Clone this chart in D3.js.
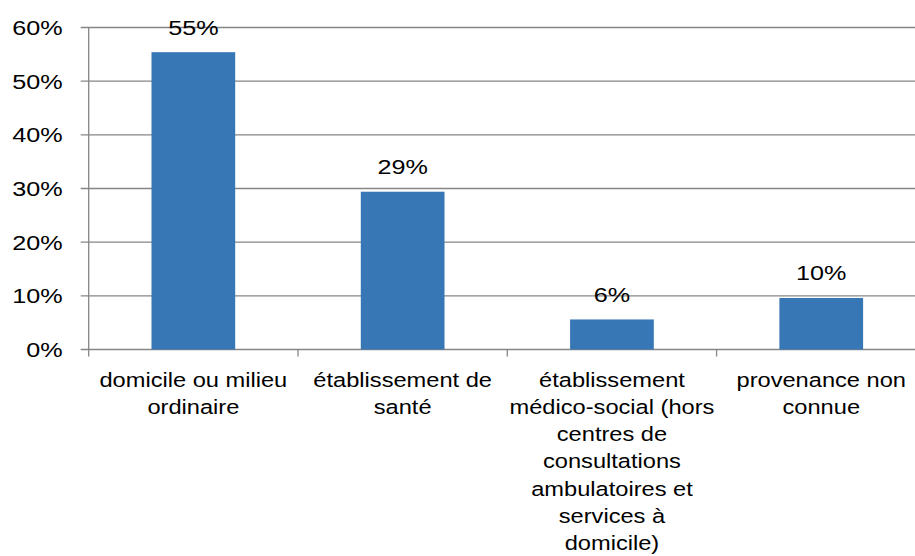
<!doctype html>
<html>
  <head>
    <meta charset="utf-8">
    <script src="https://cdn.jsdelivr.net/npm/d3@7"></script>
    <style>
      body { margin: 0; background: #fff; }
      text { font-family: "Liberation Sans", Arial, sans-serif; fill: #000; }
    </style>
  </head>
  <body>
    <div id="my_dataviz"></div>
    <script>
      // data
      var categories = ["domicile", "sante", "medicosocial", "inconnue"];
      var categoryLines = [
        ["domicile ou milieu", "ordinaire"],
        ["établissement de", "santé"],
        ["établissement", "médico-social (hors", "centres de", "consultations", "ambulatoires et", "services à", "domicile)"],
        ["provenance non", "connue"]
      ];
      var values = [0.554, 0.294, 0.056, 0.096];
      var yTicks = [0, 0.1, 0.2, 0.3, 0.4, 0.5, 0.6];

      // the picture is stretched sideways, so the text is too
      var stretch = 1.2;

      var W = 915, H = 556;
      var plotLeft = 88.7, plotRight = 925.9, plotTop = 27.5, plotBottom = 349.5;

      var svg = d3.select("#my_dataviz")
        .append("svg")
          .attr("width", W)
          .attr("height", H);

      var x = d3.scaleBand()
        .domain(categories)
        .range([plotLeft, plotRight])
        .paddingInner(0.6)
        .paddingOuter(0.3);

      var y = d3.scaleLinear()
        .domain([0, 0.6])
        .range([plotBottom, plotTop]);

      var fmt = d3.format(".0%");

      // gridlines (with the small outward tick on the left)
      svg.selectAll("gridLines")
        .data(yTicks)
        .enter()
        .append("line")
          .attr("x1", plotLeft - 8)
          .attr("x2", plotRight)
          .attr("y1", function(d) { return y(d); })
          .attr("y2", function(d) { return y(d); })
          .attr("stroke", "#868686")
          .attr("stroke-width", 1.3);

      // y axis line
      svg.append("line")
        .attr("x1", plotLeft).attr("x2", plotLeft)
        .attr("y1", plotTop).attr("y2", plotBottom + 7)
        .attr("stroke", "#868686")
        .attr("stroke-width", 1.3);

      // category boundary ticks
      svg.selectAll("catTicks")
        .data(d3.range(1, categories.length + 1))
        .enter()
        .append("line")
          .attr("x1", function(i) { return plotLeft + i * x.step(); })
          .attr("x2", function(i) { return plotLeft + i * x.step(); })
          .attr("y1", plotBottom)
          .attr("y2", plotBottom + 7)
          .attr("stroke", "#868686")
          .attr("stroke-width", 1.3);

      // y tick labels
      svg.selectAll("yLabels")
        .data(yTicks)
        .enter()
        .append("text")
          .attr("transform", function(d) { return "translate(" + (plotLeft - 26) + "," + y(d) + ") scale(" + stretch + ",1)"; })
          .attr("text-anchor", "end")
          .attr("dy", "0.36em")
          .style("font-size", "21px")
          .text(function(d) { return fmt(d); });

      // bars
      svg.selectAll("bars")
        .data(values)
        .enter()
        .append("rect")
          .attr("x", function(d, i) { return x(categories[i]); })
          .attr("y", function(d) { return y(d); })
          .attr("width", x.bandwidth())
          .attr("height", function(d) { return y(0) - y(d); })
          .attr("fill", "#3877b5");

      // value labels
      svg.selectAll("valueLabels")
        .data(values)
        .enter()
        .append("text")
          .attr("transform", function(d, i) {
            return "translate(" + (x(categories[i]) + x.bandwidth() / 2) + "," + (y(d) - 17.5) + ") scale(" + stretch + ",1)";
          })
          .attr("text-anchor", "middle")
          .style("font-size", "21px")
          .text(function(d) { return fmt(d); });

      // category labels, one tspan per line
      var catText = svg.selectAll("catLabels")
        .data(categories)
        .enter()
        .append("text")
          .attr("transform", function(d) {
            return "translate(" + (x(d) + x.bandwidth() / 2) + "," + (plotBottom + 37.3) + ") scale(" + stretch + ",1)";
          })
          .attr("text-anchor", "middle")
          .style("font-size", "19.7px");

      catText.selectAll("tspan")
        .data(function(d, i) { return categoryLines[i]; })
        .enter()
        .append("tspan")
          .attr("x", 0)
          .attr("y", function(d, j) { return j * 27.2; })
          .text(function(d) { return d; });
    </script>
  </body>
</html>
